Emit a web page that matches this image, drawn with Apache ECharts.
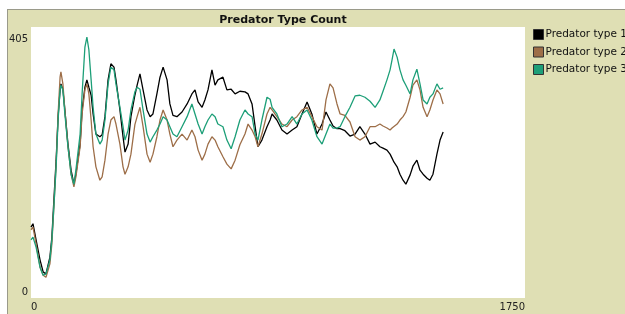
<!DOCTYPE html>
<html>
<head>
<meta charset="utf-8">
<script src="https://cdn.jsdelivr.net/npm/echarts@6/dist/echarts.min.js"></script>
<style>
html,body{margin:0;padding:0;background:#fff;}
#panel{position:absolute;left:7px;top:9px;width:640px;height:320px;background:#dfdfb4;border-left:1px solid #9a9a8a;border-top:1px solid #9a9a8a;}
#chart{position:absolute;left:0;top:0;width:625px;height:314px;}
</style>
</head>
<body>
<div id="panel"></div>
<div id="chart"></div>
<script>
// x positions (ticks) shared by all three series
var ticks = [0,7,18,32,43,53,67,74,81,89,96,103,106,113,120,131,142,152,159,174,181,191,198,205,213,220,230,244,252,262,273,283,294,301,315,326,333,344,354,368,376,386,397,411,422,432,446,457,468,482,492,503,517,535,553,570,581,592,606,616,627,641,652,662,680,694,709,723,740,758,769,783,794,804,818,836,847,854,871,889,907,925,942,960,978,995,1013,1031,1045,1059,1070,1084,1095,1112,1130,1148,1165,1183,1201,1219,1236,1247,1261,1272,1279,1286,1297,1307,1318,1328,1343,1353,1367,1378,1389,1403,1413,1424,1438,1449,1460];
var type1 = [106,111,87,57,39,36,61,91,146,206,271,311,320,312,281,230,191,170,185,230,281,315,326,315,303,275,245,241,244,271,326,350,345,326,281,241,218,230,271,303,318,335,311,281,271,275,305,330,345,326,290,273,271,278,290,305,311,293,285,296,311,341,318,326,330,311,312,305,309,308,305,290,256,226,236,256,266,275,266,251,245,251,256,275,293,275,245,260,278,266,257,253,253,250,242,245,256,245,230,233,226,224,221,215,209,203,196,185,176,170,184,197,206,191,185,179,176,185,215,236,248];
var type2 = [102,106,81,46,34,31,51,81,136,200,275,330,338,320,281,226,185,166,181,226,275,311,320,305,266,226,196,176,181,206,245,266,271,260,230,196,185,196,215,259,271,285,256,215,203,215,241,266,281,266,245,226,236,245,236,251,241,221,206,215,230,241,236,226,211,200,193,206,229,245,260,251,241,226,245,275,285,281,271,260,256,266,271,281,285,271,256,251,296,320,314,290,275,273,263,241,236,241,256,256,260,257,254,251,254,256,260,266,271,278,300,318,326,311,285,271,281,296,311,305,290];
var type3 = [87,91,76,46,34,36,57,87,136,196,266,311,318,311,275,226,185,170,191,245,305,375,390,371,326,285,245,230,236,266,320,345,341,320,285,256,236,251,281,308,315,312,281,245,233,241,251,260,271,266,256,245,241,256,271,290,275,260,245,256,266,275,271,260,256,236,223,241,266,281,275,271,245,236,266,300,297,285,275,256,260,271,260,275,281,266,241,230,245,260,254,254,256,271,285,302,303,300,294,285,296,309,326,341,356,372,360,341,326,318,305,326,342,320,296,290,300,305,320,312,314];
var seriesNames = ['Predator type 1','Predator type 2','Predator type 3'];
var seriesColors = ['#000000','#9d6e48','#1d9f78'];
var xMin = 0, xMax = 1750, yMin = 0, yMax = 405;
var chartTitle = 'Predator Type Count';

function pairs(vals){ return vals.map(function(v,i){ return [ticks[i], v]; }); }

var chart = echarts.init(document.getElementById('chart'), null, {renderer:'canvas'});
var font = 'DejaVu Sans';
chart.setOption({
  animation:false,
  backgroundColor:'transparent',
  title:{
    text:chartTitle, left:278, top:10, textAlign:'center',
    textStyle:{fontFamily:font, fontSize:11, fontWeight:'bold', color:'#111'}
  },
  legend:{
    orient:'vertical', left:533, top:29, padding:0, itemGap:6.5,
    itemWidth:10, itemHeight:10, icon:'rect',
    itemStyle:{borderColor:'#333', borderWidth:1},
    textStyle:{fontFamily:font, fontSize:10.5, color:'#111', padding:[0,0,0,-3]},
    data:seriesNames
  },
  grid:{left:31, top:27, width:494, height:271, show:true, backgroundColor:'#ffffff', borderWidth:0},
  xAxis:{
    type:'value', min:xMin, max:xMax, interval:xMax,
    axisLine:{show:false}, axisTick:{show:false}, splitLine:{show:false},
    axisLabel:{fontFamily:font, fontSize:10, color:'#222', margin:4, alignMinLabel:'left', alignMaxLabel:'right',
      formatter:function(v){ return String(v); }}
  },
  yAxis:{
    type:'value', min:yMin, max:yMax, interval:yMax,
    axisLine:{show:false}, axisTick:{show:false}, splitLine:{show:false},
    axisLabel:{fontFamily:font, fontSize:10, color:'#222', margin:3,
      formatter:function(v){ return v===yMax ? '{t|'+v+'}' : '{b|'+v+'}'; },
      rich:{
        t:{fontFamily:font, fontSize:10, color:'#222', padding:[24,0,0,0]},
        b:{fontFamily:font, fontSize:10, color:'#222', padding:[0,0,12,0]}
      }
    }
  },
  series:[type1,type2,type3].map(function(vals,i){
    return {name:seriesNames[i], type:'line', data:pairs(vals), showSymbol:false,
      color:seriesColors[i], lineStyle:{width:1.3, color:seriesColors[i]}};
  })
});
</script>
</body>
</html>
